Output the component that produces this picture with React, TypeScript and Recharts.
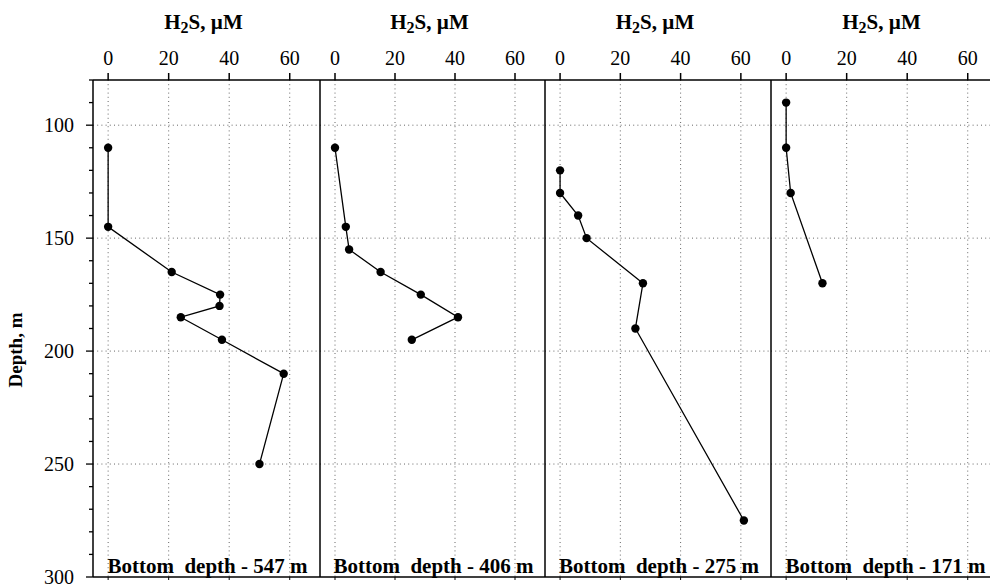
import { CartesianGrid, Line, LineChart, XAxis, YAxis } from "recharts";

// Four H2S depth profiles side by side, one shared depth axis on the left.

const SERIF = '"Liberation Serif", "DejaVu Serif", serif';

const depth1 = [110, 145, 165, 175, 180, 185, 195, 210, 250];
const h2s1 = [0, 0, 21, 37, 36.8, 24, 37.6, 58, 50];
const depth2 = [110, 145, 155, 165, 175, 185, 195];
const h2s2 = [0, 3.6, 4.7, 15.2, 28.6, 41, 25.6];
const depth3 = [120, 130, 140, 150, 170, 190, 275];
const h2s3 = [0, 0, 6, 8.8, 27.5, 25, 61];
const depth4 = [90, 110, 130, 170];
const h2s4 = [0, 0, 1.5, 12];
const bottomDepths = [547, 406, 275, 171];

const xTicks = [0, 20, 40, 60];
const depthTicks = [80, 90, 100, 110, 120, 130, 140, 150, 160, 170, 180, 190, 200, 210, 220, 230, 240, 250, 260, 270, 280, 290, 300];
const depthLabels = [100, 150, 200, 250, 300];
const depthGrid = [100, 150, 200, 250];

const profiles = [
  { depth: depth1, h2s: h2s1 },
  { depth: depth2, h2s: h2s2 },
  { depth: depth3, h2s: h2s3 },
  { depth: depth4, h2s: h2s4 },
];

// layout (px)
const AXIS_W = 93;
const TOP_H = 80;
const BOTTOM_H = 8;
const HEIGHT = 585;
const PANEL_LEFT = [93, 320, 545, 771];
const PANEL_W = [227, 225, 226, 227];

const frame = { stroke: "#000", strokeWidth: 1.5 };

function DepthTick(props: any) {
  const { x, y, payload } = props;
  const major = depthLabels.includes(payload.value);
  return (
    <g>
      <line x1={x - (major ? 7 : 4)} y1={y} x2={x} y2={y} stroke="#000" strokeWidth={1.3} />
      {major && (
        <text x={x - 19} y={y} dy="0.35em" textAnchor="end" fill="#000" fontSize={20} fontFamily={SERIF}>
          {payload.value}
        </text>
      )}
    </g>
  );
}

const noTick = () => <g />;

function Panel({ i }: { i: number }) {
  const data = profiles[i].depth.map((d, k) => ({ depth: d, h2s: profiles[i].h2s[k] }));
  const w = PANEL_W[i];
  const first = i === 0;
  const cx = AXIS_W + w / 2;

  const Title = () => (
    <text x={cx - 3} y={28.5} textAnchor="middle" fill="#000" fontSize={21} fontWeight="bold" fontFamily={SERIF}>
      H<tspan dy={4.5} fontSize={16}>2</tspan>
      <tspan dy={-4.5}>S, µM</tspan>
    </text>
  );
  const Bottom = () => (
    <text x={cx + 1} y={573} textAnchor="middle" fill="#000" fontSize={21} fontWeight="bold" fontFamily={SERIF} style={{ whiteSpace: "pre" }}>
      {`Bottom  depth - ${bottomDepths[i]} m`}
    </text>
  );
  const DepthTitle = () => (
    <text x={15} y={350} transform="rotate(-90 15 350)" textAnchor="middle" dominantBaseline="central" fill="#000" fontSize={19} fontWeight="bold" fontFamily={SERIF}>
      Depth, m
    </text>
  );

  return (
    <div style={{ position: "absolute", left: PANEL_LEFT[i] - AXIS_W, top: 0 }}>
      <LineChart width={AXIS_W + w + 4} height={HEIGHT} data={data} margin={{ top: 0, right: 4, bottom: 0, left: 0 }}>
        <CartesianGrid
          xAxisId="t"
          yAxisId="d"
          horizontalValues={depthGrid}
          verticalValues={xTicks}
          stroke="#666"
          strokeDasharray="1 3.2"
        />
        <XAxis
          xAxisId="t"
          orientation="top"
          dataKey="h2s"
          type="number"
          domain={[-5, 70]}
          ticks={xTicks}
          interval={0}
          height={TOP_H}
          tickSize={7}
          tickMargin={8}
          axisLine={frame}
          tickLine={frame}
          tick={{ fill: "#000", fontSize: 20, fontFamily: SERIF }}
          label={{ content: Title }}
        />
        <XAxis
          xAxisId="b"
          orientation="bottom"
          dataKey="h2s"
          type="number"
          domain={[-5, 70]}
          ticks={xTicks}
          interval={0}
          height={BOTTOM_H}
          tickSize={3}
          axisLine={frame}
          tickLine={{ stroke: "#000", strokeWidth: 1 }}
          tick={noTick}
          label={{ content: Bottom }}
        />
        <YAxis
          yAxisId="d"
          type="number"
          domain={[80, 300]}
          reversed
          ticks={depthTicks}
          interval={0}
          width={AXIS_W}
          tickSize={0}
          tickMargin={0}
          tickLine={false}
          axisLine={frame}
          tick={first ? <DepthTick /> : noTick}
          label={first ? { content: DepthTitle } : undefined}
        />
        <Line
          xAxisId="t"
          yAxisId="d"
          dataKey="depth"
          stroke="#000"
          strokeWidth={1.3}
          dot={{ r: 4.2, fill: "#000", stroke: "#000", strokeWidth: 0 }}
          activeDot={false}
          isAnimationActive={false}
        />
      </LineChart>
    </div>
  );
}

export default function App() {
  return (
    <div style={{ position: "fixed", left: 0, top: 0, width: 990, height: 585, overflow: "hidden", background: "#fff" }}>
      {profiles.map((_, i) => (
        <Panel key={i} i={i} />
      ))}
    </div>
  );
}
